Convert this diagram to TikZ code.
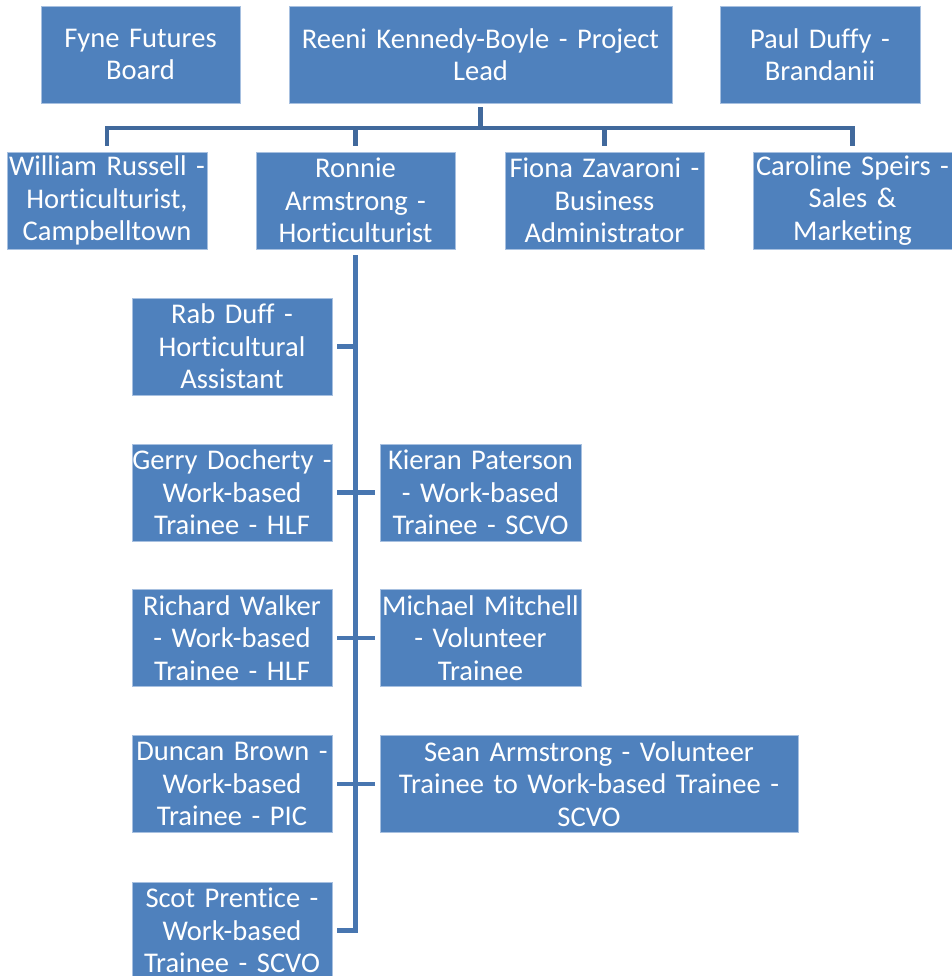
\documentclass[tikz,border=0pt]{standalone}
\usepackage{fontspec}
\setmainfont{Carlito}[Ligatures={NoCommon}]
\usetikzlibrary{positioning,calc}

\definecolor{boxblue}{HTML}{4F81BD}
\definecolor{boxedge}{HTML}{A7C0E0}
\definecolor{topline}{HTML}{41699C}
\definecolor{trunkline}{HTML}{4876B0}

\tikzset{
  unit/.style={fill=boxblue, draw=boxedge, line width=0.6pt, text=white,
    text width=#1, minimum height=2.425cm, inner xsep=0pt, inner ysep=0pt,
    align=center, font=\fontsize{20.3}{23}\selectfont},
  unit/.default={5cm},
  link/.style={line width=3.4pt, draw=trunkline, line join=miter},
}

\begin{document}
\begin{tikzpicture}[x=0.025cm, y=-0.025cm]
\useasboundingbox (0,0) rectangle (952,976);

\def\ya{54.5}
\def\yb{200.5}
\def\yc{346.5}
\def\yd{492.5}
\def\ye{638}
\def\yf{784}
\def\yg{930.5}

% top row
\node[unit=4.975cm] (board) at (140.5, \ya) {Fyne Futures\\Board};
\node[unit=9.575cm] (reeni) at (480.5, \ya) {Reeni Kennedy-Boyle - Project\\Lead};
\node[unit] (paul) at (820, \ya) {Paul Duffy -\\Brandanii};

% staff
\node[unit] (william) at (107, \yb) {William Russell -\\Horticulturist,\\Campbelltown};
\node[unit=4.975cm] (ronnie) at (355.5, \yb) {Ronnie\\Armstrong -\\Horticulturist};
\node[unit=4.975cm] (fiona) at (604.5, \yb) {Fiona Zavaroni -\\Business\\Administrator};
\node[unit=4.975cm] (caroline) at (852.5, \yb) {Caroline Speirs -\\Sales \&\\Marketing};

% trainees, left column
\node[unit] (rab) at (232, \yc) {Rab Duff -\\Horticultural\\Assistant};
\node[unit] (gerry) at (232, \yd) {Gerry Docherty -\\Work-based\\Trainee - HLF};
\node[unit] (richard) at (232, \ye) {Richard Walker\\- Work-based\\Trainee - HLF};
\node[unit] (duncan) at (232, \yf) {Duncan Brown -\\Work-based\\Trainee - PIC};
\node[unit] (scot) at (232, \yg) {Scot Prentice -\\Work-based\\Trainee - SCVO};

% trainees, right column
\node[unit=5.025cm] (kieran) at (480.5, \yd) {Kieran Paterson\\- Work-based\\Trainee - SCVO};
\node[unit=5.025cm] (michael) at (480.5, \ye) {Michael Mitchell\\- Volunteer\\Trainee};
\node[unit=10.45cm] (sean) at (589, \yf) {Sean Armstrong - Volunteer\\Trainee to Work-based Trainee -\\SCVO};

% connectors from the lead
\coordinate (bar) at (480.5, 128);
\draw[link, draw=topline] ($(reeni.south)+(0,4)$) -- (bar);
\draw[link, draw=topline] ($(william.north)+(0,-6)$) |- (bar) -| ($(caroline.north)+(0,-6)$);
\draw[link, draw=topline] (bar -| ronnie.north) -- ($(ronnie.north)+(0,-6)$);
\draw[link, draw=topline] (bar -| fiona.north) -- ($(fiona.north)+(0,-6)$);

% trunk under Ronnie
\coordinate (trunk) at (ronnie.south);
\draw[link] ($(ronnie.south)+(0,6)$) |- ($(scot.east)+(5,0)$);
\foreach \n in {rab,gerry,richard,duncan}
  \draw[link] (trunk |- \n.east) -- ($(\n.east)+(5,0)$);
\foreach \n in {kieran,michael,sean}
  \draw[link] (trunk |- \n.west) -- ($(\n.west)+(-5,0)$);

\end{tikzpicture}
\end{document}
